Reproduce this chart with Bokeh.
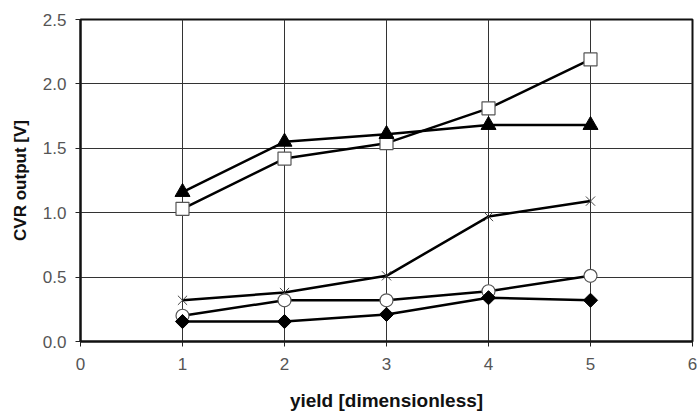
import math
from bokeh.plotting import figure
from bokeh.models import Range1d, FixedTicker
from bokeh.embed import file_html
from bokeh.resources import INLINE

x = [1, 2, 3, 4, 5]
squares = [1.03, 1.42, 1.54, 1.81, 2.19]
triangles = [1.16, 1.55, 1.61, 1.68, 1.68]
stars = [0.32, 0.38, 0.51, 0.97, 1.09]
circles = [0.20, 0.32, 0.32, 0.39, 0.51]
diamonds = [0.155, 0.155, 0.21, 0.34, 0.32]

x_ticks = [0, 1, 2, 3, 4, 5, 6]
y_ticks = [0.0, 0.5, 1.0, 1.5, 2.0, 2.5]
y_tick_labels = {0.0: "0.0", 0.5: "0.5", 1.0: "1.0", 1.5: "1.5", 2.0: "2.0", 2.5: "2.5"}

p = figure(width=697, height=413, output_backend="svg", toolbar_location=None,
           x_range=Range1d(0, 6), y_range=Range1d(0, 2.5),
           min_border_left=80, min_border_right=5, min_border_top=19, min_border_bottom=71)

FONT = "Liberation Sans"
p.background_fill_color = "white"
p.border_fill_color = "white"
p.outline_line_color = "#111111"
p.outline_line_width = 2

for ax in (p.xaxis, p.yaxis):
    ax.axis_line_color = "#111111"
    ax.axis_line_width = 2
    ax.major_tick_out = 5
    ax.major_tick_in = 0
    ax.minor_tick_out = 0
    ax.minor_tick_in = 0
    ax.major_tick_line_color = "#222222"
    ax.major_label_text_font = FONT
    ax.major_label_text_font_size = "17px"
    ax.major_label_text_color = "#555555"
    ax.axis_label_text_font = FONT
    ax.axis_label_text_font_style = "bold"
    ax.axis_label_text_color = "#111111"

p.xaxis.axis_label_text_font_size = "19px"
p.yaxis.axis_label_text_font_size = "17px"

p.xaxis.ticker = FixedTicker(ticks=x_ticks)
p.yaxis.ticker = FixedTicker(ticks=y_ticks)
p.yaxis.major_label_overrides = y_tick_labels
p.xaxis.major_label_standoff = 11
p.yaxis.major_label_standoff = 9
p.xaxis.axis_label = "yield [dimensionless]"
p.yaxis.axis_label = "CVR output [V]"
p.xaxis.axis_label_standoff = 17
p.yaxis.axis_label_standoff = 10

p.xgrid.ticker = FixedTicker(ticks=x_ticks)
p.ygrid.ticker = FixedTicker(ticks=y_ticks)
for g in (p.xgrid, p.ygrid):
    g.grid_line_color = "#333333"
    g.grid_line_width = 1

lw = 2.5
for ys in (squares, triangles, stars, circles, diamonds):
    p.line(x, ys, line_color="black", line_width=lw)

p.scatter(x, squares, marker="square", size=13, fill_color="white", line_color="#555555", line_width=1.2)
p.scatter(x, triangles, marker="triangle", size=15, fill_color="black", line_color="black")
p.scatter(x, stars, marker="x", size=13, line_color="#444444", line_width=1)
p.scatter(x, circles, marker="circle", size=13, fill_color="white", line_color="#555555", line_width=1.2)
p.scatter(x, diamonds, marker="square", size=10, angle=math.pi / 4, fill_color="black", line_color="black")

open("out.html", "w").write(file_html(p, INLINE))
